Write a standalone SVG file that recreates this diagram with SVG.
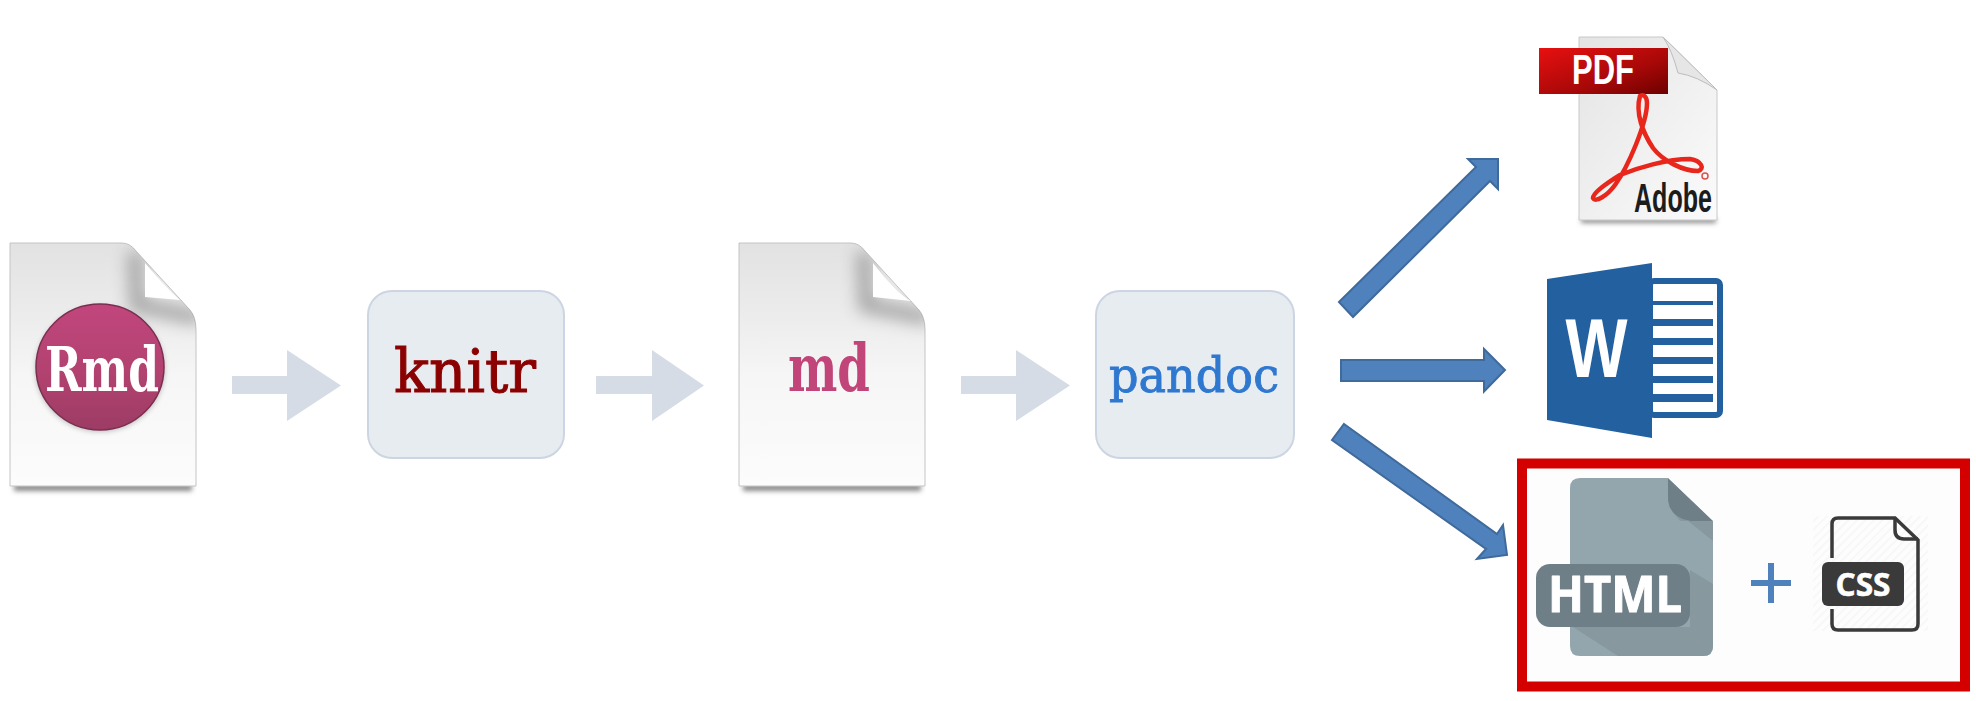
<svg xmlns="http://www.w3.org/2000/svg" width="1976" height="701" viewBox="0 0 1976 701">
<style>
.box{fill:#e7ecf0;stroke:#cdd5e3;stroke-width:2}
.light{fill:#d6dce6}
.dark{fill:#4f81bd;stroke:#3f6a9c;stroke-width:2}
.sheet{fill:url(#sheet);stroke:#c4c4c4;stroke-width:1}
.foldshade{fill:none;stroke:#8c8c8c;stroke-width:15;opacity:.72}
.serif{font-family:"DejaVu Serif","Liberation Serif",serif}
.serifb{font-family:"DejaVu Serif","Liberation Serif",serif;font-weight:700}
.sans{font-family:"Liberation Sans",Arial,sans-serif;font-weight:700}
.open{font-family:"Open Sans","Liberation Sans",sans-serif;font-weight:700}
</style>
<defs>
<linearGradient id="sheet" x1="0" y1="0" x2="0" y2="1"><stop offset="0" stop-color="#e2e2e2"/><stop offset=".3" stop-color="#ececec"/><stop offset=".55" stop-color="#f6f6f6"/><stop offset="1" stop-color="#fcfcfc"/></linearGradient>
<linearGradient id="ball" x1="0" y1="0" x2="0" y2="1"><stop offset="0" stop-color="#c1467d"/><stop offset=".55" stop-color="#b2426f"/><stop offset="1" stop-color="#9c3c64"/></linearGradient>
<linearGradient id="banner" x1="0" y1="0" x2="1" y2="1"><stop offset="0" stop-color="#e81010"/><stop offset=".6" stop-color="#a80808"/><stop offset="1" stop-color="#6d0000"/></linearGradient>
<linearGradient id="pdfpage" x1="0" y1="0" x2="1" y2="1"><stop offset="0" stop-color="#e4e4e4"/><stop offset="1" stop-color="#fbfbfb"/></linearGradient>
<filter id="soft" x="-20%" y="-20%" width="140%" height="140%"><feGaussianBlur stdDeviation="0.6"/></filter>
<filter id="blur4" x="-30%" y="-200%" width="160%" height="500%"><feGaussianBlur stdDeviation="2.500"/></filter>
<filter id="blur9" x="-60%" y="-60%" width="220%" height="220%"><feGaussianBlur stdDeviation="8"/></filter>
<clipPath id="clipRmd"><path d="M10,243H122Q130,243 136,251L190,310Q196,317 196,330V486H10Z"/></clipPath>
<clipPath id="clipMd"><path d="M739,243H851Q859,243 865,251L919,310Q925,317 925,330V486H739Z"/></clipPath>
<clipPath id="clipHtml"><path d="M1580,478H1668L1713,521V646Q1713,656 1703,656H1580Q1570,656 1570,646V488Q1570,478 1580,478Z"/></clipPath>
<pattern id="hatch" width="6" height="6" patternUnits="userSpaceOnUse" patternTransform="rotate(-45)"><rect width="6" height="6" fill="#fdfdfd"/><rect width="6" height="1.500" fill="#f6f6f6"/></pattern>
</defs>
<rect width="1976" height="701" fill="#fff"/>

<g id="connectors">
<path class="light" d="M232,376H287V350L341,385.500L287,421V394H232Z"/>
<path class="light" d="M596,376H652V350L704,385.500L652,421V394H596Z"/>
<path class="light" d="M961,376H1016V350L1070,385.500L1016,421V394H961Z"/>
<path class="dark" d="M1339,302L1476,167L1468,159H1498V189L1490,181L1353,317Z"/>
<path class="dark" d="M1341,360H1484V349L1505,370L1484,391.500V381H1341Z"/>
<path class="dark" d="M1344,424L1497,534L1503,525L1507,555L1477,559L1486,549L1332,440Z"/>
</g>

<g id="node-rmd">
<path d="M14,484H192V491H14Z" fill="#8a8a8a" filter="url(#blur4)"/>
<path class="sheet" d="M10,243H122Q130,243 136,251L190,310Q196,317 196,330V486H10Z"/>
<g clip-path="url(#clipRmd)"><path class="foldshade" d="M135,252L137,305L200,318" filter="url(#blur9)"/></g>
<path d="M145,263Q168,290 180,300L145,297Z" fill="#fff"/>
<ellipse cx="100" cy="369" rx="65" ry="63" fill="#8a8a8a" opacity=".5" filter="url(#blur4)"/>
<ellipse cx="100" cy="367" rx="64" ry="63" fill="url(#ball)" stroke="#7b2f4f" stroke-width="1.500"/>
<text class="serifb" x="102" y="391" font-size="62" fill="#fff" text-anchor="middle" textLength="114" lengthAdjust="spacingAndGlyphs" filter="url(#soft)">Rmd</text>
</g>

<g id="node-knitr">
<rect class="box" x="368" y="291" width="196" height="167" rx="24"/>
<text class="serif" x="465" y="392" font-size="59" fill="#8b0000" stroke="#8b0000" stroke-width="1" text-anchor="middle" textLength="142" lengthAdjust="spacingAndGlyphs" filter="url(#soft)">knitr</text>
</g>

<g id="node-md">
<path d="M743,484H921V491H743Z" fill="#8a8a8a" filter="url(#blur4)"/>
<path class="sheet" d="M739,243H851Q859,243 865,251L919,310Q925,317 925,330V486H739Z"/>
<g clip-path="url(#clipMd)"><path class="foldshade" d="M864,252L866,305L929,318" filter="url(#blur9)"/></g>
<path d="M873,263Q897,294 911,301L873,297Z" fill="#fff"/>
<text class="serifb" x="829" y="391" font-size="66" fill="#c2457a" text-anchor="middle" textLength="82" lengthAdjust="spacingAndGlyphs" filter="url(#soft)">md</text>
</g>

<g id="node-pandoc">
<rect class="box" x="1096" y="291" width="198" height="167" rx="24"/>
<text class="serif" x="1194" y="392" font-size="49" fill="#2f78d0" stroke="#2f78d0" stroke-width=".9" text-anchor="middle" textLength="170" lengthAdjust="spacingAndGlyphs" filter="url(#soft)">pandoc</text>
</g>

<g id="node-pdf">
<path d="M1581,218H1716V223H1581Z" fill="#8a8a8a" filter="url(#blur4)"/>
<path d="M1579,37H1663L1717,90V220H1579Z" fill="url(#pdfpage)" stroke="#c8c8c8"/>
<path d="M1663,37Q1672,50 1678,73Q1697,76 1717,90Z" fill="#e6e6e6" stroke="#bdbdbd"/>
<rect x="1539" y="48" width="129" height="46" fill="url(#banner)"/>
<text class="sans" x="1603" y="84" font-size="42" fill="#fff" text-anchor="middle" textLength="62" lengthAdjust="spacingAndGlyphs">PDF</text>
<path d="M1640,96C1635,113 1643,133 1653,148C1663,161 1683,171 1698,171C1705,169 1702,161 1690,159C1667,159 1637,168 1620,175C1607,183 1593,193 1593,198C1595,203 1607,196 1615,185C1628,167 1647,123 1647,103C1647,96 1643,94 1640,96Z" fill="none" stroke="#e8271b" stroke-width="4.500" filter="url(#soft)"/>
<circle cx="1705" cy="176" r="3" fill="none" stroke="#d9534f" stroke-width="1.500"/>
<text class="sans" x="1673" y="212" font-size="40" fill="#1c1c1c" text-anchor="middle" textLength="78" lengthAdjust="spacingAndGlyphs">Adobe</text>
</g>

<g id="node-word">
<rect x="1650" y="281" width="70" height="134" rx="4" fill="#fff" stroke="#23609f" stroke-width="6"/>
<path d="M1652,301H1713V305H1652ZM1652,319H1713V326H1652ZM1652,338H1713V345H1652ZM1652,357H1713V364H1652ZM1652,376H1713V383H1652ZM1652,394H1713V402H1652Z" fill="#23609f"/>
<path d="M1547,279L1652,263V438L1547,420Z" fill="#23609f"/>
<text class="sans" x="1596.500" y="377" font-size="84" fill="#fff" text-anchor="middle" textLength="62" lengthAdjust="spacingAndGlyphs">W</text>
</g>

<g id="node-output">
<rect x="1522" y="463.500" width="443" height="223" fill="#fdfdfe" stroke="#d40000" stroke-width="10"/>
<path d="M1580,478H1668L1713,521V646Q1713,656 1703,656H1580Q1570,656 1570,646V488Q1570,478 1580,478Z" fill="#93a6ad"/>
<g clip-path="url(#clipHtml)">
<path d="M1690,570L1713,584V656H1618L1573,627H1690Z" fill="#87999f"/>
<path d="M1668,505L1713,541V521H1680Z" fill="#87999f"/>
<path d="M1668,478L1713,521H1690Q1668,517 1668,497Z" fill="#6f7f87"/>
</g>
<rect x="1536" y="564" width="154" height="63" rx="14" fill="#6f7f87"/>
<text class="open" x="1615" y="612" font-size="50" fill="#fff" stroke="#fff" stroke-width="1" stroke-linejoin="round" text-anchor="middle" textLength="134" lengthAdjust="spacingAndGlyphs">HTML</text>
<path d="M1751,583H1791M1771,563V603" fill="none" stroke="#4f81bd" stroke-width="6"/>
<rect x="1813" y="516" width="115" height="115" fill="url(#hatch)"/>
<path d="M1832,558V524Q1832,518 1838,518H1895L1918,540V624Q1918,630 1912,630H1838Q1832,630 1832,624V609" fill="none" stroke="#3a3a3a" stroke-width="3.500"/>
<path d="M1895,518V530Q1895,539 1904,539H1918" fill="none" stroke="#3a3a3a" stroke-width="3.500"/>
<rect x="1822" y="562" width="82" height="44" rx="6" fill="#3a3a3a"/>
<text class="open" x="1863" y="596" font-size="33" fill="#fff" stroke="#fff" stroke-width=".6" text-anchor="middle" textLength="55" lengthAdjust="spacingAndGlyphs">CSS</text>
</g>
</svg>
